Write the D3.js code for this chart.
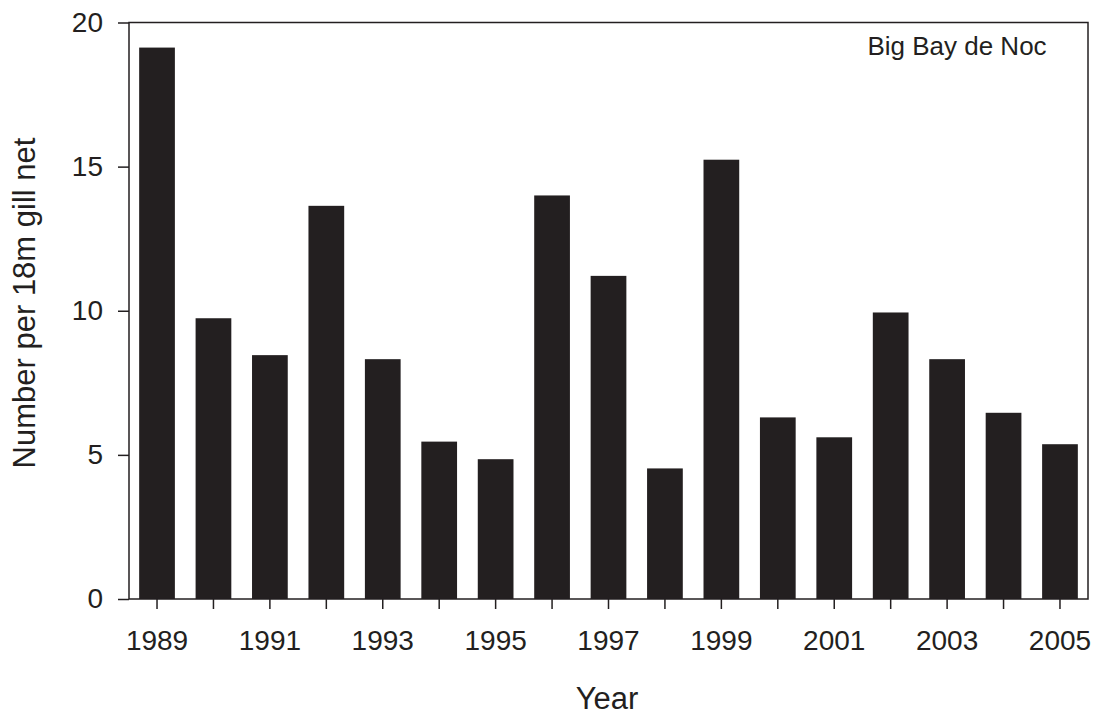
<!DOCTYPE html>
<html>
<head>
<meta charset="utf-8">
<script src="https://cdn.jsdelivr.net/npm/d3@7"></script>
<style>
  body { margin: 0; background: #fff; }
  svg { display: block; }
  text { font-family: "Liberation Sans", Arial, sans-serif; fill: #231f20; }
</style>
</head>
<body>
<svg id="chart" width="1099" height="715"></svg>
<script>
const years = ["1989","1990","1991","1992","1993","1994","1995","1996","1997","1998","1999","2000","2001","2002","2003","2004","2005"];
const values = [19.13, 9.74, 8.46, 13.64, 8.32, 5.46, 4.85, 14.0, 11.21, 4.53, 15.24, 6.3, 5.61, 9.94, 8.32, 6.46, 5.37];
const yTicks = [0, 5, 10, 15, 20];
const xTickLabels = ["1989","1991","1993","1995","1997","1999","2001","2003","2005"];
const panelLabel = "Big Bay de Noc";
const xTitle = "Year";
const yTitle = "Number per 18m gill net";

const svg = d3.select("#chart");
const mLeft = 129, mRight = 1088, mTop = 22.5, mBottom = 599;
const ink = "#231f20";

const x = d3.scaleBand().domain(years).range([mLeft, mRight]).paddingInner(0.367).paddingOuter(0.18);
const y = d3.scaleLinear().domain([0, 20]).range([mBottom, mTop]);

// bars
svg.append("g").selectAll("rect").data(years).join("rect")
  .attr("x", d => x(d))
  .attr("width", x.bandwidth())
  .attr("y", (d, i) => y(values[i]))
  .attr("height", (d, i) => y(0) - y(values[i]))
  .attr("fill", ink);

// frame
svg.append("rect").attr("x", mLeft).attr("y", mTop).attr("width", mRight - mLeft).attr("height", mBottom - mTop)
  .attr("fill", "none").attr("stroke", ink).attr("stroke-width", 1.5);

// y axis
const yAxis = svg.append("g").attr("transform", `translate(${mLeft},0)`)
  .call(d3.axisLeft(y).tickValues(yTicks).tickSize(11).tickPadding(15).tickFormat(d3.format("d")));
yAxis.select(".domain").remove();
yAxis.selectAll("line").attr("stroke", ink).attr("stroke-width", 1.5);
yAxis.selectAll("text").attr("font-size", 28).attr("fill", ink).style("font-family", "Liberation Sans, Arial, sans-serif");

// x axis
const xAxis = svg.append("g").attr("transform", `translate(0,${mBottom})`)
  .call(d3.axisBottom(x).tickSize(10).tickPadding(21).tickFormat(d => xTickLabels.includes(d) ? d : ""));
xAxis.select(".domain").remove();
xAxis.selectAll("line").attr("stroke", ink).attr("stroke-width", 1.5);
xAxis.selectAll("text").attr("font-size", 28).attr("fill", ink).style("font-family", "Liberation Sans, Arial, sans-serif");

// panel label
svg.append("text").attr("x", 957).attr("y", 55).attr("text-anchor", "middle")
  .attr("font-size", 26).text(panelLabel);

// axis titles
svg.append("text").attr("x", 607).attr("y", 709).attr("text-anchor", "middle")
  .attr("font-size", 31).text(xTitle);
svg.append("text").attr("transform", `translate(35,303) rotate(-90)`)
  .attr("text-anchor", "middle").attr("font-size", 31).text(yTitle);
</script>
</body>
</html>
